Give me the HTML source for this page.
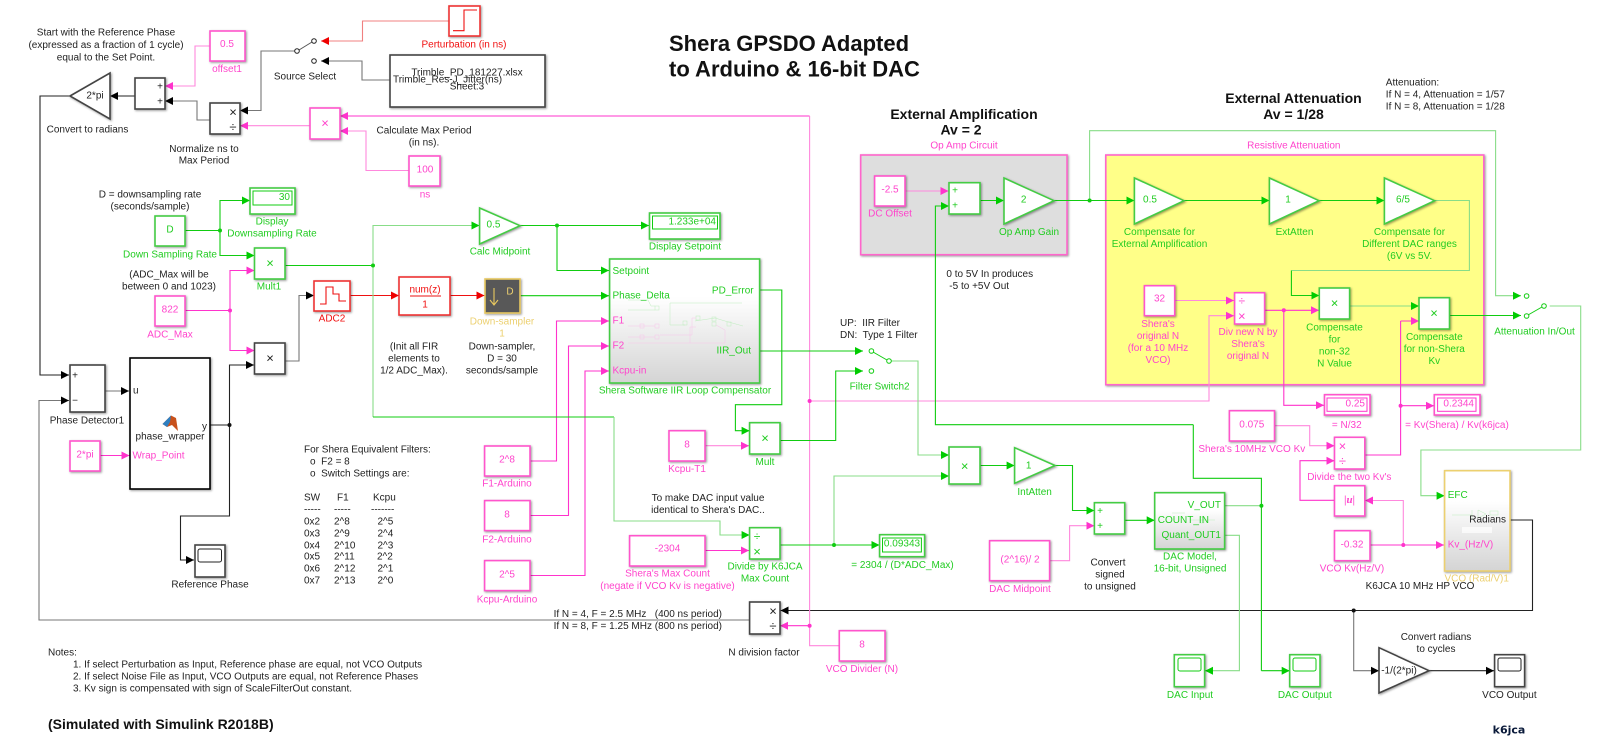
<!DOCTYPE html>
<html><head><meta charset="utf-8"><title>Shera GPSDO</title>
<style>
html,body{margin:0;padding:0;background:#fff}
svg{display:block;filter:blur(.3px)}
text{font-family:"Liberation Sans",Arial,sans-serif;font-size:10px;dominant-baseline:central}
.c text,text.c{text-anchor:middle}
.tk{fill:#222}.tg{fill:#22cc22}.tm{fill:#ff44cc}.tr{fill:#f01010}.ty{fill:#ecd070}
.l{fill:none;stroke-width:1.1}
.g{stroke:#11cc11}.m{stroke:#ff33cc}.k{stroke:#222}.r{stroke:#ee1111}
.gl{stroke:#88dd88}.ml{stroke:#ff88dd}.kl{stroke:#777}.rl{stroke:#f08080}
.b{fill:#fff;stroke-width:1.6;filter:drop-shadow(1.5px 1.5px 1px rgba(0,0,0,.4))}
.bg{stroke:#44cc44}.bm{stroke:#ff55cc}.bk{stroke:#444}.br{stroke:#ee3333}
.ag{marker-end:url(#ag)}.am{marker-end:url(#am)}.ak{marker-end:url(#ak)}.ar{marker-end:url(#ar)}
.dg{fill:#11cc11}.dm{fill:#ff33cc}.dk{fill:#111}
.o{fill:#fff;stroke-width:1}
.mini{fill:none;stroke-width:.5}
</style></head><body>
<svg width="1600" height="745" viewBox="0 0 1600 745" xmlns="http://www.w3.org/2000/svg">
<defs>
<linearGradient id="gr" x1="0" y1="0" x2="0" y2="1"><stop offset="0" stop-color="#fff"/><stop offset=".3" stop-color="#fff"/><stop offset="1" stop-color="#d4d4d4"/></linearGradient>
<marker id="ag" markerUnits="userSpaceOnUse" markerWidth="9" markerHeight="9" refX="8" refY="4.5" orient="auto"><path d="M0 .5L8 4.5L0 8.5z" fill="#0c0"/></marker>
<marker id="am" markerUnits="userSpaceOnUse" markerWidth="9" markerHeight="9" refX="8" refY="4.5" orient="auto"><path d="M0 .5L8 4.5L0 8.5z" fill="#ff33cc"/></marker>
<marker id="ak" markerUnits="userSpaceOnUse" markerWidth="9" markerHeight="9" refX="8" refY="4.5" orient="auto"><path d="M0 .5L8 4.5L0 8.5z" fill="#000"/></marker>
<marker id="ar" markerUnits="userSpaceOnUse" markerWidth="9" markerHeight="9" refX="8" refY="4.5" orient="auto"><path d="M0 .5L8 4.5L0 8.5z" fill="#e00"/></marker>
</defs>

<!-- yellow and gray areas -->
<rect class="b bm" x="860.7" y="155" width="206.3" height="99.7" style="fill:#dedede;stroke:#ff66cc"/>
<rect class="b bm" x="1105.8" y="155" width="378" height="229.7" style="fill:#ffff88;stroke:#ff66cc"/>

<!-- wires black/gray -->
<polyline class="l kl ak" points="390,80 362,80 362,61 321,61"/>
<polyline class="l kl ak" points="297,51 261,51 261,110.5 240,110.5"/>
<polyline class="l kl ak" points="210,120 197,120 197,101 165,101"/>
<polyline class="l k ak" points="135,96 110,96"/>
<polyline class="l k ak" points="70,96 40,96 40,375 69,375"/>
<polyline class="l kl ak" points="749.6,620 39,620 39,400.5 69,400.5"/>
<polyline class="l kl ak" points="105,391 129,391"/>
<polyline class="l k ak" points="210,425 229.5,425 229.5,365 254,365"/>
<polyline class="l k ak" points="229.5,425 229.5,516 180.5,516 180.5,560 194,560"/>
<polyline class="l kl ak" points="285,361 299,361 299,295.5 314,295.5"/>
<polyline class="l k ak" points="1510,520 1532.5,520 1532.5,610.5 780.5,610.5"/>
<polyline class="l kl ak" points="1353.7,610.5 1353.7,670.7 1379,670.7"/>
<polyline class="l k ak" points="1429,670.7 1494,670.7"/>
<circle class="dk" cx="229.5" cy="425" r="2"/><circle class="dk" cx="1353.7" cy="610.5" r="2"/>

<!-- wires red -->
<polyline class="l rl ar" points="449,21 362.5,21 362.5,41 321,41"/>
<polyline class="l r ar" points="350,295.5 399,295.5"/>
<polyline class="l r ar" points="450,295.5 484.5,295.5"/>

<!-- wires magenta -->
<polyline class="l ml am" points="210,46 195,46 195,86 165,86"/>
<polyline class="l ml am" points="310,125.7 240,125.7"/>
<polyline class="l m am" points="809.6,116 340,116"/>
<polyline class="l ml" points="809.6,116 809.6,645.7 839,645.7"/>
<polyline class="l m am" points="809.6,625.7 780,625.7"/>
<polyline class="l ml am" points="409,170.5 366,170.5 366,131 340,131"/>
<polyline class="l m am" points="185,310.5 230,310.5 230,270.5 254.5,270.5"/>
<polyline class="l m am" points="230,310.5 230,350.5 254.5,350.5"/>
<polyline class="l m am" points="100,455.5 129.5,455.5"/>
<polyline class="l m am" points="530,461 556.5,461 556.5,321 609,321"/>
<polyline class="l m am" points="530,515.5 568.5,515.5 568.5,346 609,346"/>
<polyline class="l m am" points="530,575.5 585,575.5 585,371 609,371"/>
<polyline class="l ml am" points="705,445.7 749,445.7"/>
<polyline class="l m am" points="705,550.5 749,550.5"/>
<polyline class="l ml am" points="809.6,401 1209,401 1209,315.7 1234,315.7"/>
<polyline class="l ml am" points="905,191 948.5,191"/>
<polyline class="l ml am" points="1174.7,300.5 1234,300.5"/>
<polyline class="l m am" points="1264.5,310.3 1319,310.3"/>
<polyline class="l m am" points="1283.8,310.3 1283.8,405.3 1324,405.3"/>
<polyline class="l m" points="1364.8,455 1400.6,455 1400.6,321"/>
<polyline class="l m am" points="1400.6,321 1419,321"/>
<polyline class="l m am" points="1400.6,405.7 1434,405.7"/>
<polyline class="l ml am" points="1274.5,425.7 1309.7,425.7 1309.7,445.7 1334.5,445.7"/>
<polyline class="l m am" points="1334.5,500.3 1300,500.3 1300,460.7 1334.5,460.7"/>
<polyline class="l ml am" points="1403.3,545 1403.3,500.5 1365,500.5"/>
<polyline class="l m am" points="1370,545 1444,545"/>
<polyline class="l ml am" points="1049.6,560.7 1069.6,560.7 1069.6,525.7 1094.4,525.7"/>
<circle class="dm" cx="230" cy="310.5" r="2"/><circle class="dm" cx="809.6" cy="401" r="2"/><circle class="dm" cx="809.6" cy="625.7" r="2"/>
<circle class="dm" cx="1283.8" cy="310.3" r="2"/><circle class="dm" cx="1400.6" cy="405.7" r="2"/><circle class="dm" cx="1403.3" cy="545" r="2"/>

<!-- wires green -->
<polyline class="l g ag" points="185,230.5 220,230.5 220,200.5 250,200.5"/>
<polyline class="l g ag" points="220,230.5 220,255.5 254.5,255.5"/>
<polyline class="l g" points="285,265.5 373,265.5"/>
<polyline class="l gl ag" points="373,417 373,225.5 479.5,225.5"/>
<polyline class="l g ag" points="520,225.5 649,225.5"/>
<polyline class="l g ag" points="557,225.5 557,270.5 609,270.5"/>
<polyline class="l g ag" points="520,295.7 609,295.7"/>
<polyline class="l g" points="373,417 614,417"/>
<polyline class="l gl ag" points="614,417 614,521 720,521 720,535 749.6,535"/>
<polyline class="l g ag" points="760,290 781.8,290 781.8,404.7 735.4,404.7 735.4,430.7 749.6,430.7"/>
<polyline class="l g ag" points="760,351 863,351"/>
<polyline class="l g ag" points="780,440.5 835.7,440.5 835.7,371 863,371"/>
<polyline class="l gl ag" points="890,361 918,361 918,455 949,455"/>
<polyline class="l g ag" points="780,545 879.5,545"/>
<polyline class="l gl ag" points="834,545 834,476 949,476"/>
<polyline class="l g ag" points="980,465.5 1014.6,465.5"/>
<polyline class="l g ag" points="1055,465.5 1072.5,465.5 1072.5,510.5 1094.4,510.5"/>
<polyline class="l g ag" points="1124.7,520.3 1154.7,520.3"/>
<polyline class="l g ag" points="1193.3,424.7 935.4,424.7 935.4,206 949,206"/>
<polyline class="l g" points="1193.3,424.7 1193.3,478.3 1261.4,478.3 1261.4,670.7"/>
<polyline class="l g ag" points="1261.4,670.7 1289.7,670.7"/>
<polyline class="l gl" points="1224.6,505.7 1261.4,505.7"/>
<polyline class="l gl ag" points="1224.6,535.3 1239.4,535.3 1239.4,670.7 1205,670.7"/>
<polyline class="l g ag" points="980,200.5 1004,200.5"/>
<polyline class="l g ag" points="1054,200.5 1134.4,200.5"/>
<polyline class="l g ag" points="1184,200.5 1269.4,200.5"/>
<polyline class="l g ag" points="1319,200.5 1384.4,200.5"/>
<polyline class="l gl" points="1434.6,200.5 1469.4,200.5 1469.4,270.5 1291.4,270.5"/>
<polyline class="l g ag" points="1291.4,270.5 1291.4,295.5 1319.3,295.5"/>
<polyline class="l gl ag" points="1349.6,306 1419,306"/>
<polyline class="l g ag" points="1449.5,315.5 1521,315.5"/>
<polyline class="l gl ag" points="1089.6,200.5 1089.6,130.7 1495.6,130.7 1495.6,295.7 1521,295.7"/>
<polyline class="l gl ag" points="1549.7,306 1580.7,306 1580.7,450 1420.9,450 1420.9,495.7 1444.6,495.7"/>
<circle class="dg" cx="220" cy="230.5" r="2"/><circle class="dg" cx="373" cy="265.5" r="2"/><circle class="dg" cx="557" cy="225.5" r="2"/>
<circle class="dg" cx="834" cy="545" r="2"/><circle class="dg" cx="1089.6" cy="200.5" r="2"/><circle class="dg" cx="1261.4" cy="505.7" r="2"/>

<!-- switches -->
<line x1="299" y1="50" x2="312" y2="42" stroke="#555"/>
<circle class="o k" cx="314" cy="41" r="2.3"/><circle class="o k" cx="314" cy="61" r="2.3"/><circle class="o k" cx="297" cy="51" r="2.3"/>
<line x1="873" y1="352" x2="887" y2="360" stroke="#11cc11"/>
<circle class="o g" cx="871.4" cy="351" r="2.3"/><circle class="o g" cx="871.4" cy="371" r="2.3"/><circle class="o g" cx="889" cy="361" r="2.3"/>
<line x1="1528" y1="315" x2="1542" y2="307" stroke="#11cc11"/>
<circle class="o g" cx="1526.6" cy="296" r="2.3"/><circle class="o g" cx="1526.6" cy="316" r="2.3"/><circle class="o g" cx="1544" cy="306" r="2.3"/>

<!-- blocks: black/gray -->
<rect class="b br" x="449" y="6" width="31" height="30"/>
<polyline class="l r" points="453,30.7 464,30.7 464,10 477,10"/>
<rect class="b bk" x="390" y="55" width="155" height="52"/>
<rect class="b bk" x="135" y="78" width="30" height="31"/>
<rect class="b bk" x="210" y="103" width="30" height="31"/>
<polygon class="b bk" points="70,96 110,73 110,119"/>
<rect class="b bk" x="254.5" y="343" width="30.5" height="31"/>
<rect class="b bk" x="70" y="365" width="35" height="47"/>
<rect class="b" x="130" y="358" width="80" height="131" style="stroke:#000;stroke-width:1.6"/>
<rect class="b bk" x="195" y="545" width="30" height="32"/>
<rect class="o k" x="198" y="549" width="23.5" height="13" rx="2"/>
<rect class="b bk" x="749.6" y="602" width="30.4" height="32"/>
<polygon class="b bk" points="1379,647.7 1429,670.7 1379,693"/>
<rect class="b bk" x="1494.6" y="654.7" width="30" height="32"/>
<rect class="o k" x="1498" y="658" width="23" height="13" rx="2"/>

<!-- blocks: magenta -->
<rect class="b bm" x="210" y="31" width="35" height="30"/>
<rect class="b bm" x="310" y="108" width="30" height="31"/>
<rect class="b bm" x="409" y="156" width="31" height="30"/>
<rect class="b bm" x="155" y="296" width="30" height="30"/>
<rect class="b bm" x="70" y="441" width="30" height="30"/>
<rect class="b bm" x="484.6" y="446" width="45.4" height="30"/>
<rect class="b bm" x="484.6" y="500.6" width="45.4" height="30"/>
<rect class="b bm" x="484.6" y="560.6" width="45.4" height="30"/>
<rect class="b bm" x="669" y="430.7" width="36" height="30.3"/>
<rect class="b bm" x="629.6" y="535.7" width="75.4" height="30.3"/>
<rect class="b bm" x="839.3" y="630.7" width="45.7" height="30.3"/>
<rect class="b bm" x="989.6" y="540.7" width="60" height="40"/>
<rect class="b bm" x="874.6" y="176" width="30.4" height="30"/>
<rect class="b bm" x="1144.4" y="285.7" width="30.3" height="30"/>
<rect class="b bm" x="1234.6" y="292.7" width="30" height="31.3"/>
<rect class="b bm" x="1324.5" y="394.7" width="45.5" height="20.3"/>
<rect class="o m" x="1327" y="398" width="40" height="13.3"/>
<rect class="b bm" x="1434.3" y="394.7" width="45.7" height="20.3"/>
<rect class="o m" x="1437.6" y="398" width="38.4" height="13.3"/>
<rect class="b bm" x="1229.4" y="410.7" width="45.1" height="30.3"/>
<rect class="b bm" x="1334.5" y="437.3" width="30.3" height="31.7"/>
<rect class="b bm" x="1334.5" y="485.7" width="30.3" height="30.3"/>
<rect class="b bm" x="1334.5" y="530.7" width="35.5" height="30"/>

<!-- blocks: green -->
<rect class="b bg" x="155" y="216" width="30" height="30"/>
<rect class="b bg" x="250" y="188" width="45" height="26"/>
<rect class="o g" x="253" y="191" width="39" height="14"/>
<rect class="b bg" x="254.5" y="248" width="30.5" height="31"/>
<polygon class="b bg" points="479.6,208 520,225.7 479.6,244"/>
<rect class="b bg" x="649.5" y="213" width="70.5" height="26"/>
<rect class="o g" x="652.5" y="216" width="65" height="13"/>
<rect class="b bg" x="609.6" y="259" width="150" height="124" style="fill:url(#gr)"/>
<rect class="b bg" x="749.6" y="422.7" width="30.4" height="31.3"/>
<rect class="b bg" x="749.6" y="527.7" width="30.4" height="31.3"/>
<rect class="b bg" x="879.6" y="534.7" width="45" height="22"/>
<rect class="o g" x="882.5" y="538" width="38.9" height="14"/>
<rect class="b bg" x="949" y="447" width="31" height="37"/>
<polygon class="b bg" points="1014.6,447.7 1055,465.5 1014.6,483.3"/>
<rect class="b bg" x="949" y="182.7" width="31" height="31.3"/>
<polygon class="b bg" points="1004,178 1054,200.7 1004,224"/>
<polygon class="b bg" points="1134.4,178 1184,200.7 1134.4,224"/>
<polygon class="b bg" points="1269.4,178 1319,200.7 1269.4,224"/>
<polygon class="b bg" points="1384.4,178 1434.6,200.7 1384.4,224"/>
<rect class="b bg" x="1319.3" y="288" width="30.3" height="31"/>
<rect class="b bg" x="1419" y="297.7" width="30.5" height="31.3"/>
<rect class="b bg" x="1094.4" y="502.7" width="30.3" height="31.3"/>
<rect class="b bg" x="1154.7" y="492.7" width="69.9" height="56.3" style="fill:url(#gr)"/>
<rect class="b bg" x="1174.3" y="654.7" width="30.3" height="32"/>
<rect class="o g" x="1178" y="658" width="23" height="13" rx="2"/>
<rect class="b bg" x="1289.7" y="654.7" width="30.3" height="32"/>
<rect class="o g" x="1293" y="658" width="23" height="13" rx="2"/>

<!-- red and gold blocks -->
<rect class="b br" x="314" y="281" width="36" height="30"/>
<polyline class="l r" points="320,304 326,304 326,287 333,287 333,294 339,294 339,301 346,301"/>
<rect class="b br" x="399" y="277" width="51" height="38"/>
<line x1="410" y1="296" x2="441" y2="296" stroke="#ee1111"/>
<rect class="b" x="485" y="279" width="35" height="34" style="fill:#585858;stroke:#e8c860"/>
<polyline class="l" stroke="#e8c860" points="494,288 494,305"/><polyline class="l" stroke="#e8c860" points="490,300 494,305 498,300"/>
<rect class="b" x="1444.6" y="470.7" width="65.4" height="100.3" style="fill:url(#gr);stroke:#ecd070"/>

<!-- mini diagrams -->
<g class="mini" stroke="#bfeebf">
<polyline points="628,300 648,300 651,306 655,306"/>
<polyline points="628,310 655,310"/>
<polyline points="670,303 670,325 685,325"/>
<polyline points="670,303 742,303"/>
<polyline points="695,321 715,318 725,321 743,326"/>
<rect x="683" y="321" width="4" height="4"/><rect x="696" y="316" width="4" height="4"/><rect x="712" y="317" width="4" height="4"/><rect x="712" y="322" width="4" height="4"/><rect x="727" y="322" width="4" height="4"/><rect x="655" y="306" width="4" height="4"/>
</g>
<g class="mini" stroke="#f7c6ea">
<polyline points="628,326 642,326 655,326"/><polyline points="628,337 642,337 655,337"/><polyline points="628,343 690,343 690,327 696,327"/>
<polyline points="660,335 692,335 692,318 696,318"/><polyline points="716,325 725,330 725,343 690,343"/>
<rect x="640" y="324" width="4" height="4"/><rect x="640" y="335" width="4" height="4"/><rect x="655" y="324" width="4" height="4"/><rect x="655" y="335" width="4" height="4"/>
</g>
<g class="mini" stroke="#bfeebf"><polyline points="1172,513 1185,513"/><polyline points="1190,520 1215,520"/><rect x="1200" y="517" width="4" height="6"/></g>
<g class="mini" stroke="#bfeebf"><polyline points="1452,515 1472,515"/><polyline points="1472,510 1472,520"/><polygon points="1478,510 1486,514 1478,518"/><rect x="1490" y="511" width="8" height="4"/></g>
<rect x="1462" y="527" width="30" height="6" fill="#fff" opacity=".7"/>

<!-- matlab logo -->
<polygon points="162.5,424 171,415.5 176,418 178,431 172,425 167,427" fill="#c8511b"/>
<polygon points="162.5,424 171,415.5 170,422 167,427" fill="#2f7fc0"/>

<!-- icons inside blocks -->
<g class="c tk">
<text x="95" y="96">2*pi</text>
<text x="160" y="87">+</text><text x="160" y="102">+</text>
<text x="233" y="112" style="font-size:13px">×</text><text x="233" y="127" style="font-size:13px">÷</text>
<text x="270" y="358" style="font-size:13px">×</text>
<text x="75" y="376">+</text><text x="75" y="401">−</text>
<text x="773" y="611" style="font-size:13px">×</text><text x="773" y="626" style="font-size:13px">÷</text>
<text x="1399" y="671">-1/(2*pi)</text>
</g>
<text class="tk" x="133" y="391">u</text>
<text class="tk" x="202" y="427">y</text>
<text class="c tk" x="170" y="437">phase_wrapper</text>
<text class="tm" x="132.5" y="456">Wrap_Point</text>

<g class="tk">
<text class="c" x="467" y="73">Trimble_PD_181227.xlsx</text>
<text class="c" x="447.5" y="80">Trimble_Res-J_Jitter(ns)</text>
<text class="c" x="467" y="87">Sheet:3</text>
</g>

<g class="c tm">
<text x="227" y="44.5">0.5</text><text x="227" y="69.5">offset1</text>
<text x="325" y="123" style="font-size:13px">×</text>
<text x="425" y="170">100</text><text x="425" y="195">ns</text>
<text x="170" y="310">822</text><text x="170" y="335">ADC_Max</text>
<text x="85" y="455">2*pi</text>
<text x="507" y="460">2^8</text><text x="507" y="484">F1-Arduino</text>
<text x="507" y="515">8</text><text x="507" y="540">F2-Arduino</text>
<text x="507" y="575">2^5</text><text x="507" y="600">Kcpu-Arduino</text>
<text x="687" y="445">8</text><text x="687" y="469.7">Kcpu-T1</text>
<text x="667.5" y="549">-2304</text>
<text x="667.5" y="574">Shera's Max Count</text><text x="667.5" y="586.5">(negate if VCO Kv is negative)</text>
<text x="862" y="645">8</text><text x="862" y="669.3">VCO Divider (N)</text>
<text x="1020" y="560">(2^16)/ 2</text><text x="1020" y="589.3">DAC Midpoint</text>
<text x="890" y="190">-2.5</text><text x="890" y="214">DC Offset</text>
<text x="964" y="146">Op Amp Circuit</text>
<text x="1293.8" y="146">Resistive Attenuation</text>
<text x="1159.5" y="299">32</text>
<text x="1158" y="324.3">Shera's</text><text x="1158" y="336.7">original N</text><text x="1158" y="348.3">(for a 10 MHz</text><text x="1158" y="360.4">VCO)</text>
<text x="1241.8" y="301" style="font-size:12px">÷</text><text x="1241.8" y="316" style="font-size:13px">×</text>
<text x="1248" y="332.3">Div new N by</text><text x="1248" y="344.3">Shera's</text><text x="1248" y="356.4">original N</text>
<text x="1346.8" y="425.7">= N/32</text><text x="1457" y="425.7">= Kv(Shera) / Kv(k6jca)</text>
<text x="1251.8" y="425">0.075</text><text x="1251.8" y="449.7">Shera's 10MHz VCO Kv</text>
<text x="1342.4" y="446" style="font-size:13px">×</text><text x="1342.4" y="461" style="font-size:13px">÷</text>
<text x="1349.3" y="477.3">Divide the two Kv's</text>
<text x="1349.6" y="500" style="font-family:'Liberation Serif',serif;font-weight:bold;font-style:italic;font-size:11px">|u|</text>
<text x="1352" y="545">-0.32</text><text x="1352" y="569">VCO Kv(Hz/V)</text>
</g>
<g class="tm" text-anchor="end"><text x="1365" y="404">0.25</text><text x="1474" y="404">0.2344</text></g>
<g class="tm">
<text x="612.5" y="321">F1</text><text x="612.5" y="346">F2</text><text x="612.5" y="371">Kcpu-in</text>
<text x="1447.7" y="545">Kv_(Hz/V)</text>
</g>

<g class="c tg">
<text x="170" y="230">D</text><text x="170" y="255">Down Sampling Rate</text>
<text x="272" y="222">Display</text><text x="272" y="234">Downsampling Rate</text>
<text x="270" y="263" style="font-size:13px">×</text><text x="269" y="287">Mult1</text>
<text x="493.5" y="225">0.5</text><text x="500" y="252">Calc Midpoint</text>
<text x="685" y="247">Display Setpoint</text>
<text x="685" y="391">Shera Software IIR Loop Compensator</text>
<text x="765" y="438" style="font-size:13px">×</text><text x="765" y="462.7">Mult</text>
<text x="757" y="536.7" style="font-size:12px">÷</text><text x="757" y="551.6" style="font-size:13px">×</text>
<text x="765" y="567">Divide by K6JCA</text><text x="765" y="579">Max Count</text>
<text x="902" y="544">0.09343</text><text x="902.5" y="565.7">= 2304 / (D*ADC_Max)</text>
<text x="879.6" y="387">Filter Switch2</text>
<text x="964.7" y="466" style="font-size:13px">×</text>
<text x="1028.6" y="466">1</text><text x="1034.6" y="492.7">IntAtten</text>
<text x="955" y="191">+</text><text x="955" y="206">+</text>
<text x="1023.6" y="200">2</text><text x="1029" y="232.7">Op Amp Gain</text>
<text x="1150" y="200">0.5</text><text x="1159.5" y="232.7">Compensate for</text><text x="1159.5" y="244.7">External Amplification</text>
<text x="1288" y="200">1</text><text x="1294.5" y="232.7">ExtAtten</text>
<text x="1403" y="200">6/5</text><text x="1409.5" y="232.7">Compensate for</text><text x="1409.5" y="244.7">Different DAC ranges</text><text x="1409.5" y="256.7">(6V vs 5V.</text>
<text x="1334.5" y="303" style="font-size:13px">×</text>
<text x="1334.5" y="328">Compensate</text><text x="1334.5" y="340">for</text><text x="1334.5" y="352">non-32</text><text x="1334.5" y="364">N Value</text>
<text x="1434" y="313" style="font-size:13px">×</text>
<text x="1434.3" y="337.7">Compensate</text><text x="1434.3" y="349.7">for non-Shera</text><text x="1434.3" y="361.7">Kv</text>
<text x="1534.5" y="332">Attenuation In/Out</text>
<text x="1100" y="511.7">+</text><text x="1100" y="526.3">+</text>
<text x="1190" y="557">DAC Model,</text><text x="1190" y="569">16-bit, Unsigned</text>
<text x="1190" y="695.3">DAC Input</text><text x="1304.8" y="695.3">DAC Output</text>
</g>
<g class="tg" text-anchor="end">
<text x="290" y="197.5">30</text><text x="716" y="222">1.233e+04</text>
<text x="753.6" y="291">PD_Error</text><text x="751" y="351">IIR_Out</text>
<text x="1221" y="505.7">V_OUT</text><text x="1221" y="535.7">Quant_OUT1</text>
</g>
<g class="tg">
<text x="612.5" y="271.7">Setpoint</text><text x="612.5" y="296">Phase_Delta</text>
<text x="1157.8" y="520.3">COUNT_IN</text><text x="1447.7" y="495.7">EFC</text>
</g>
<text class="tk" x="1506" y="520" text-anchor="end">Radians</text>

<g class="c tr">
<text x="464" y="45">Perturbation (in ns)</text>
<text x="332" y="319">ADC2</text>
<text x="425" y="290">num(z)</text><text x="425" y="305">1</text>
</g>
<g class="c ty">
<text x="510" y="292">D</text>
<text x="502" y="322">Down-sampler</text><text x="502" y="334">1</text>
<text x="1476.7" y="579">VCO (Rad/V)1</text>
</g>

<!-- black annotations -->
<g class="c tk">
<text x="106" y="33">Start with the Reference Phase</text>
<text x="106" y="45.5">(expressed as a fraction of 1 cycle)</text>
<text x="106" y="58">equal to the Set Point.</text>
<text x="87.5" y="130">Convert to radians</text>
<text x="305" y="77">Source Select</text>
<text x="204" y="149.5">Normalize ns to</text><text x="204" y="161">Max Period</text>
<text x="424" y="131">Calculate Max Period</text><text x="424" y="143">(in ns).</text>
<text x="150" y="195">D = downsampling rate</text><text x="150" y="207">(seconds/sample)</text>
<text x="169" y="275">(ADC_Max will be</text><text x="169" y="287">between 0 and 1023)</text>
<text x="414" y="347">(Init all FIR</text><text x="414" y="359">elements to</text><text x="414" y="371">1/2 ADC_Max).</text>
<text x="502" y="347">Down-sampler,</text><text x="502" y="359">D = 30</text><text x="502" y="371">seconds/sample</text>
<text x="87" y="421">Phase Detector1</text>
<text x="210" y="585">Reference Phase</text>
<text x="708" y="498.7">To make DAC input value</text><text x="708" y="510.7">identical to Shera's DAC..</text>
<text x="764" y="653">N division factor</text>
<text x="1108" y="563">Convert</text><text x="1110" y="575">signed</text><text x="1110" y="587">to unsigned</text>
<text x="1420" y="586.7">K6JCA 10 MHz HP VCO</text>
<text x="1436" y="637.7">Convert radians</text><text x="1436" y="649.7">to cycles</text>
<text x="1509.4" y="695.3">VCO Output</text>
</g>
<g class="tk">
<text x="840" y="323.7" xml:space="preserve">UP:  IIR Filter</text>
<text x="840" y="335.7" xml:space="preserve">DN:  Type 1 Filter</text>
<text x="946.4" y="274.7">0 to 5V In produces</text>
<text x="949.3" y="286.7">-5 to +5V Out</text>
<text x="1385.8" y="83">Attenuation:</text>
<text x="1385.8" y="95">If N = 4, Attenuation = 1/57</text>
<text x="1385.8" y="107">If N = 8, Attenuation = 1/28</text>
<text x="304" y="450">For Shera Equivalent Filters:</text>
<text x="310" y="462" xml:space="preserve">o  F2 = 8</text>
<text x="310" y="474" xml:space="preserve">o  Switch Settings are:</text>
<text x="304" y="498">SW</text><text x="337" y="498">F1</text><text x="373" y="498">Kcpu</text>
<text x="304" y="510">-----</text><text x="334" y="510">-----</text><text x="371" y="510">-------</text>
<text x="304" y="522">0x2</text><text x="334" y="522">2^8</text><text x="377.5" y="522">2^5</text>
<text x="304" y="534">0x3</text><text x="334" y="534">2^9</text><text x="377.5" y="534">2^4</text>
<text x="304" y="546">0x4</text><text x="334" y="546">2^10</text><text x="377.5" y="546">2^3</text>
<text x="304" y="557">0x5</text><text x="334" y="557">2^11</text><text x="377" y="557">2^2</text>
<text x="304" y="569">0x6</text><text x="334" y="569">2^12</text><text x="377.5" y="569">2^1</text>
<text x="304" y="581">0x7</text><text x="334" y="581">2^13</text><text x="377.5" y="581">2^0</text>
<text x="553.6" y="614.3" xml:space="preserve">If N = 4, F = 2.5 MHz   (400 ns period)</text>
<text x="553.6" y="626.7">If N = 8, F = 1.25 MHz (800 ns period)</text>
<text x="48" y="653">Notes:</text>
<text x="73" y="665">1. If select Perturbation as Input, Reference phase are equal, not VCO Outputs</text>
<text x="73" y="677">2. If select Noise File as Input, VCO Outputs are equal, not Reference Phases</text>
<text x="73" y="689">3. Kv sign is compensated with sign of ScaleFilterOut constant.</text>
</g>

<!-- headings -->
<g fill="#111">
<text x="669" y="43.5" style="font-size:22px;font-weight:bold">Shera GPSDO Adapted</text>
<text x="669" y="69" style="font-size:22px;font-weight:bold">to Arduino &amp; 16-bit DAC</text>
<text x="964" y="114" text-anchor="middle" style="font-size:14px;font-weight:bold">External Amplification</text>
<text x="961" y="129.7" text-anchor="middle" style="font-size:14px;font-weight:bold">Av = 2</text>
<text x="1293.5" y="98" text-anchor="middle" style="font-size:14px;font-weight:bold">External Attenuation</text>
<text x="1293.5" y="114" text-anchor="middle" style="font-size:14px;font-weight:bold">Av = 1/28</text>
<text x="48" y="724" style="font-size:14px;font-weight:bold">(Simulated with Simulink R2018B)</text>
<text x="1509" y="730" text-anchor="middle" style="font-family:'DejaVu Sans',sans-serif;font-size:11px;font-weight:bold" fill="#0a1a3a">k6jca</text>
</g>
</svg>
</body></html>
